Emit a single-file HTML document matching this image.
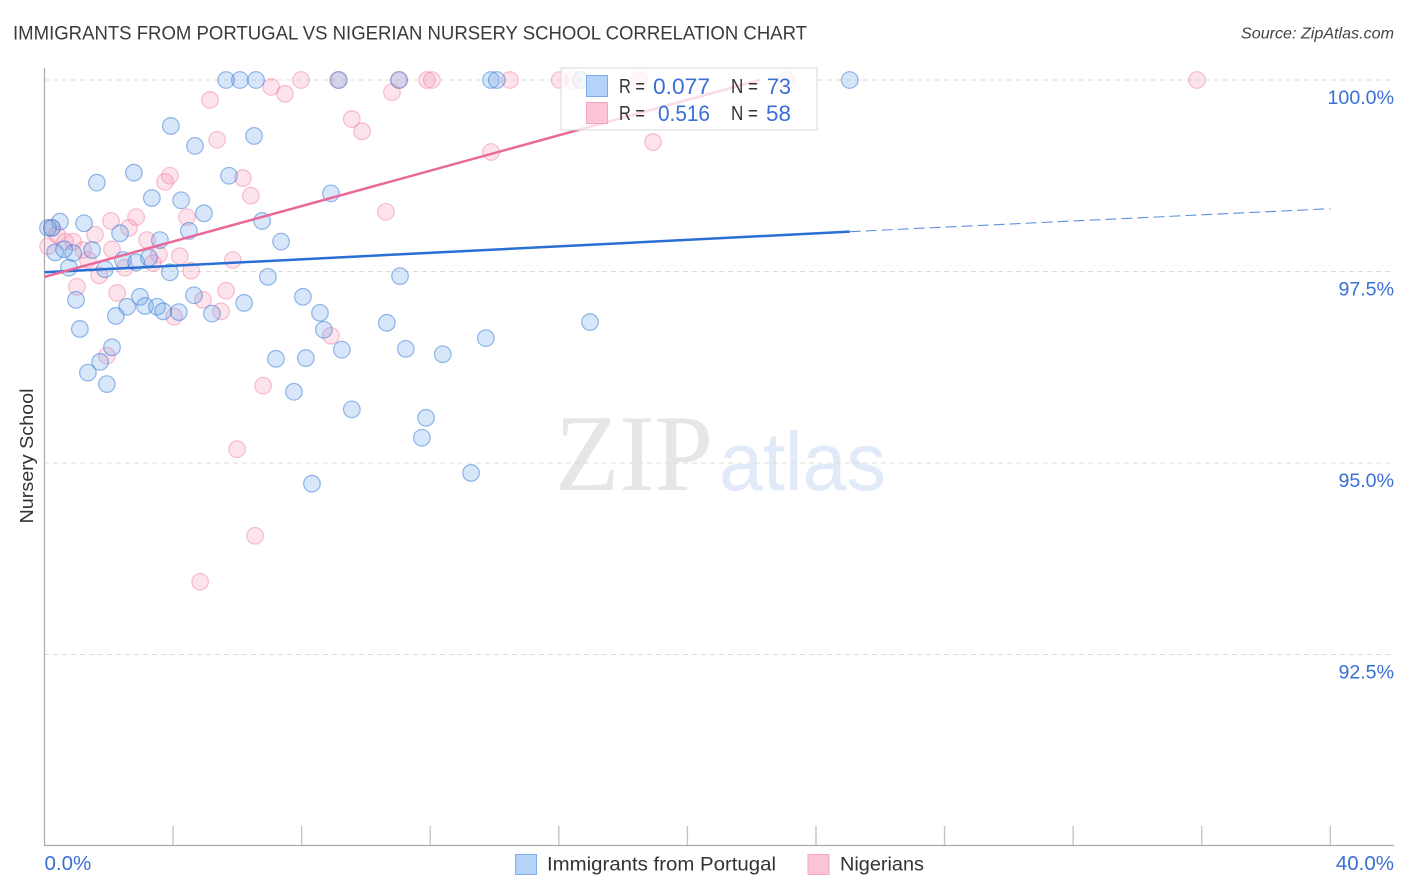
<!DOCTYPE html>
<html lang="en">
<head>
<meta charset="utf-8">
<title>Immigrants from Portugal vs Nigerian Nursery School Correlation Chart</title>
<style>
html,body{margin:0;padding:0;background:#fff;width:1406px;height:892px;overflow:hidden}
svg{display:block;font-family:"Liberation Sans",sans-serif}
</style>
</head>
<body>
<svg id="chart" xmlns="http://www.w3.org/2000/svg" width="1406" height="892" viewBox="0 0 1406 892">
  <rect width="1406" height="892" fill="#fff"/>
  <text x="13" y="39.5" font-size="19" fill="#3a3a3a" textLength="794" lengthAdjust="spacingAndGlyphs">IMMIGRANTS FROM PORTUGAL VS NIGERIAN NURSERY SCHOOL CORRELATION CHART</text>
  <text x="1394" y="38.5" font-size="16" font-style="italic" fill="#444" text-anchor="end" textLength="153" lengthAdjust="spacingAndGlyphs">Source: ZipAtlas.com</text>
  <g>
    <text x="555" y="490" font-family="'Liberation Serif',serif" font-size="109" fill="#e6e6e6" textLength="158" lengthAdjust="spacingAndGlyphs">ZIP</text>
    <text x="719" y="490" font-size="83" fill="#e0eaf9" textLength="167" lengthAdjust="spacingAndGlyphs">atlas</text>
  </g>
  <g id="grid"></g>
  <g id="ticks"></g>
  <line x1="44.5" y1="68" x2="44.5" y2="846" stroke="#aaa" stroke-width="1.2"/>
  <line x1="44" y1="845.5" x2="1394" y2="845.5" stroke="#aaa" stroke-width="1.2"/>
  <g id="points"></g>
  <g id="trends"></g>
  <g id="ylabels"></g>
  <g id="xlabels"></g>
  <text transform="translate(33,456) rotate(-90)" font-size="18.5" fill="#333" text-anchor="middle" textLength="135" lengthAdjust="spacingAndGlyphs">Nursery School</text>

  <g>
    <rect x="561" y="68" width="256" height="62" fill="#fff" fill-opacity="0.76" stroke="#d9d9d9" stroke-width="1"/>
    <rect x="586.5" y="75.5" width="21" height="21" fill="#b5d2f8" stroke="#7eaee8"/>
    <rect x="586.5" y="102.5" width="21" height="21" fill="#fcc5d7" stroke="#f6a5bf"/>
    <text x="619" y="93" font-size="20" fill="#333" textLength="26" lengthAdjust="spacingAndGlyphs">R =</text>
    <text x="653" y="94" font-size="22" fill="#3a6fd6" textLength="57" lengthAdjust="spacingAndGlyphs">0.077</text>
    <text x="731" y="93" font-size="20" fill="#333" textLength="27" lengthAdjust="spacingAndGlyphs">N =</text>
    <text x="767" y="94" font-size="22" fill="#3a6fd6" textLength="24" lengthAdjust="spacingAndGlyphs">73</text>
    <text x="619" y="120" font-size="20" fill="#333" textLength="26" lengthAdjust="spacingAndGlyphs">R =</text>
    <text x="658" y="121" font-size="22" fill="#3a6fd6" textLength="52" lengthAdjust="spacingAndGlyphs">0.516</text>
    <text x="731" y="120" font-size="20" fill="#333" textLength="27" lengthAdjust="spacingAndGlyphs">N =</text>
    <text x="766" y="121" font-size="22" fill="#3a6fd6" textLength="25" lengthAdjust="spacingAndGlyphs">58</text>
  </g>

  <g>
    <g>
      <rect x="515.5" y="854.5" width="21" height="20" fill="#b5d2f8" stroke="#7eaee8"/>
      <text x="547" y="870.5" font-size="19.5" fill="#333" textLength="229" lengthAdjust="spacingAndGlyphs">Immigrants from Portugal</text>
    </g>
    <g>
      <rect x="808" y="854.5" width="21" height="20" fill="#fcc5d7" stroke="#f6a5bf"/>
      <text x="840" y="870.5" font-size="19.5" fill="#333" textLength="84" lengthAdjust="spacingAndGlyphs">Nigerians</text>
    </g>
  </g>
</svg>
<script>
const portugalX = [5.65,6.08,6.58,9.16,11.03,13.89,14.07,16.69,25.05,3.93,6.52,4.68,2.78,5.74,1.63,8.91,3.34,4.25,4.96,6.77,1.23,0.48,0.11,0.23,2.35,4.49,3.59,7.36,1.48,0.89,0.33,0.61,2.44,2.85,3.25,1.88,0.76,3.90,6.95,11.06,0.98,4.65,8.04,2.97,2.57,3.13,3.50,3.69,4.18,5.21,6.21,2.22,8.57,10.65,16.97,8.69,1.10,13.73,9.25,11.24,12.39,2.10,7.20,8.13,1.73,1.35,1.94,7.76,9.56,11.87,11.74,13.27,8.32];
const portugalY = [100,100,100,100,100,100,100,100,100,99.40,99.27,99.14,98.79,98.75,98.66,98.52,98.46,98.43,98.26,98.16,98.13,98.15,98.07,98.07,98.00,98.03,97.91,97.89,97.78,97.74,97.75,97.79,97.65,97.62,97.68,97.53,97.55,97.49,97.43,97.44,97.13,97.19,97.17,97.17,97.04,97.05,97.04,96.98,96.97,96.95,97.09,96.92,96.96,96.83,96.84,96.74,96.75,96.63,96.48,96.49,96.42,96.51,96.36,96.37,96.32,96.18,96.03,95.93,95.70,95.59,95.33,94.87,94.73];
const nigeriansX = [5.15,7.05,7.48,7.98,9.13,10.81,11.03,11.90,12.05,14.48,16.03,16.44,18.49,23.09,35.85,9.56,9.88,5.37,13.89,18.93,3.90,3.75,6.17,6.42,10.62,4.43,2.85,2.07,2.63,1.57,3.19,0.23,0.89,0.64,0.11,0.39,1.20,2.10,3.56,4.21,5.86,1.35,2.50,3.37,4.56,1.70,1.01,2.26,4.93,5.65,4.03,5.49,8.91,1.94,6.80,5.99,6.55,4.84];
const nigeriansY = [99.74,99.91,99.82,100,100,99.84,100,100,100,100,100,100,100,100,100,99.49,99.33,99.22,99.06,99.19,98.75,98.67,98.72,98.49,98.28,98.21,98.21,98.16,98.07,97.98,97.91,98.07,97.89,97.89,97.83,97.98,97.78,97.79,97.72,97.70,97.65,97.65,97.55,97.61,97.51,97.45,97.30,97.22,97.13,97.25,96.91,96.98,96.66,96.40,96.01,95.18,94.05,93.45];
const portugalTrendX = [0,25.05,40];
const portugalTrendY = [97.49,98.02,98.32];
const nigeriansTrendX = [0,22.25];
const nigeriansTrendY = [97.43,100];
const yTickValues = [100,97.5,95,92.5];
const yTickLabels = ["100.0%","97.5%","95.0%","92.5%"];
const xTickValues = [4,8,12,16,20,24,28,32,36,40];
const xLabelValues = [0,40];
const xLabelTexts = ["0.0%","40.0%"];

const NS = "http://www.w3.org/2000/svg";
function xScale(v){ return 44.5 + v * 32.145; }
function yScale(v){ return 80 + (100 - v) * 76.6; }
function make(tag, attrs, parent){
  const el = document.createElementNS(NS, tag);
  for (const k in attrs) el.setAttribute(k, attrs[k]);
  parent.appendChild(el);
  return el;
}

const grid = document.getElementById("grid");
const ylabels = document.getElementById("ylabels");
yTickValues.forEach(function(v, i){
  const line = make("line", {x1:44, x2:1394, y1:yScale(v), y2:yScale(v), stroke:"#dcdcdc", "stroke-width":1, "stroke-dasharray":"5 4"}, grid);
  
  
  const label = make("text", {x:1394, y:yScale(v)+24, "font-size":19.6, fill:"#3a6fd6", "text-anchor":"end"}, ylabels);
  label.textContent = yTickLabels[i];
  
  
});

const ticks = document.getElementById("ticks");
xTickValues.forEach(function(v){
  const t = make("line", {x1:xScale(v), x2:xScale(v), y1:826, y2:845, stroke:"#c4c4c4", "stroke-width":1.4}, ticks);
  
  
});

const xlabels = document.getElementById("xlabels");
xLabelValues.forEach(function(v, i){
  const anchor = i === 0 ? "start" : "end";
  const px = i === 0 ? xScale(v) : 1394;
  const label = make("text", {x:px, y:870, "font-size":20.5, fill:"#3a6fd6", "text-anchor":anchor}, xlabels);
  label.textContent = xLabelTexts[i];
  
  
});

const points = document.getElementById("points");
nigeriansX.forEach(function(x, i){
  const c = make("circle", {cx:xScale(x), cy:yScale(nigeriansY[i]), r:8.3, fill:"#f78fb0", "fill-opacity":0.25, stroke:"#ee6f97", "stroke-opacity":0.42, "stroke-width":1.2}, points);
  
  
});
portugalX.forEach(function(x, i){
  const c = make("circle", {cx:xScale(x), cy:yScale(portugalY[i]), r:8.3, fill:"#6aa5ea", "fill-opacity":0.27, stroke:"#2f74d6", "stroke-opacity":0.5, "stroke-width":1.2}, points);
  
  
});

const trends = document.getElementById("trends");
const portugalSolid = make("line", {x1:xScale(portugalTrendX[0]), y1:yScale(portugalTrendY[0]), x2:xScale(portugalTrendX[1]), y2:yScale(portugalTrendY[1]), stroke:"#2a6fd4", "stroke-width":2.5}, trends);


const portugalDash = make("line", {x1:xScale(portugalTrendX[1]), y1:yScale(portugalTrendY[1]), x2:xScale(portugalTrendX[2]), y2:yScale(portugalTrendY[2]), stroke:"#5f94d6", "stroke-width":1.1, "stroke-dasharray":"11 5"}, trends);


const nigeriansLine = make("line", {x1:xScale(nigeriansTrendX[0]), y1:yScale(nigeriansTrendY[0]), x2:xScale(nigeriansTrendX[1]), y2:yScale(nigeriansTrendY[1]), stroke:"#e8699a", "stroke-width":2.5}, trends);


</script>
</body>
</html>
